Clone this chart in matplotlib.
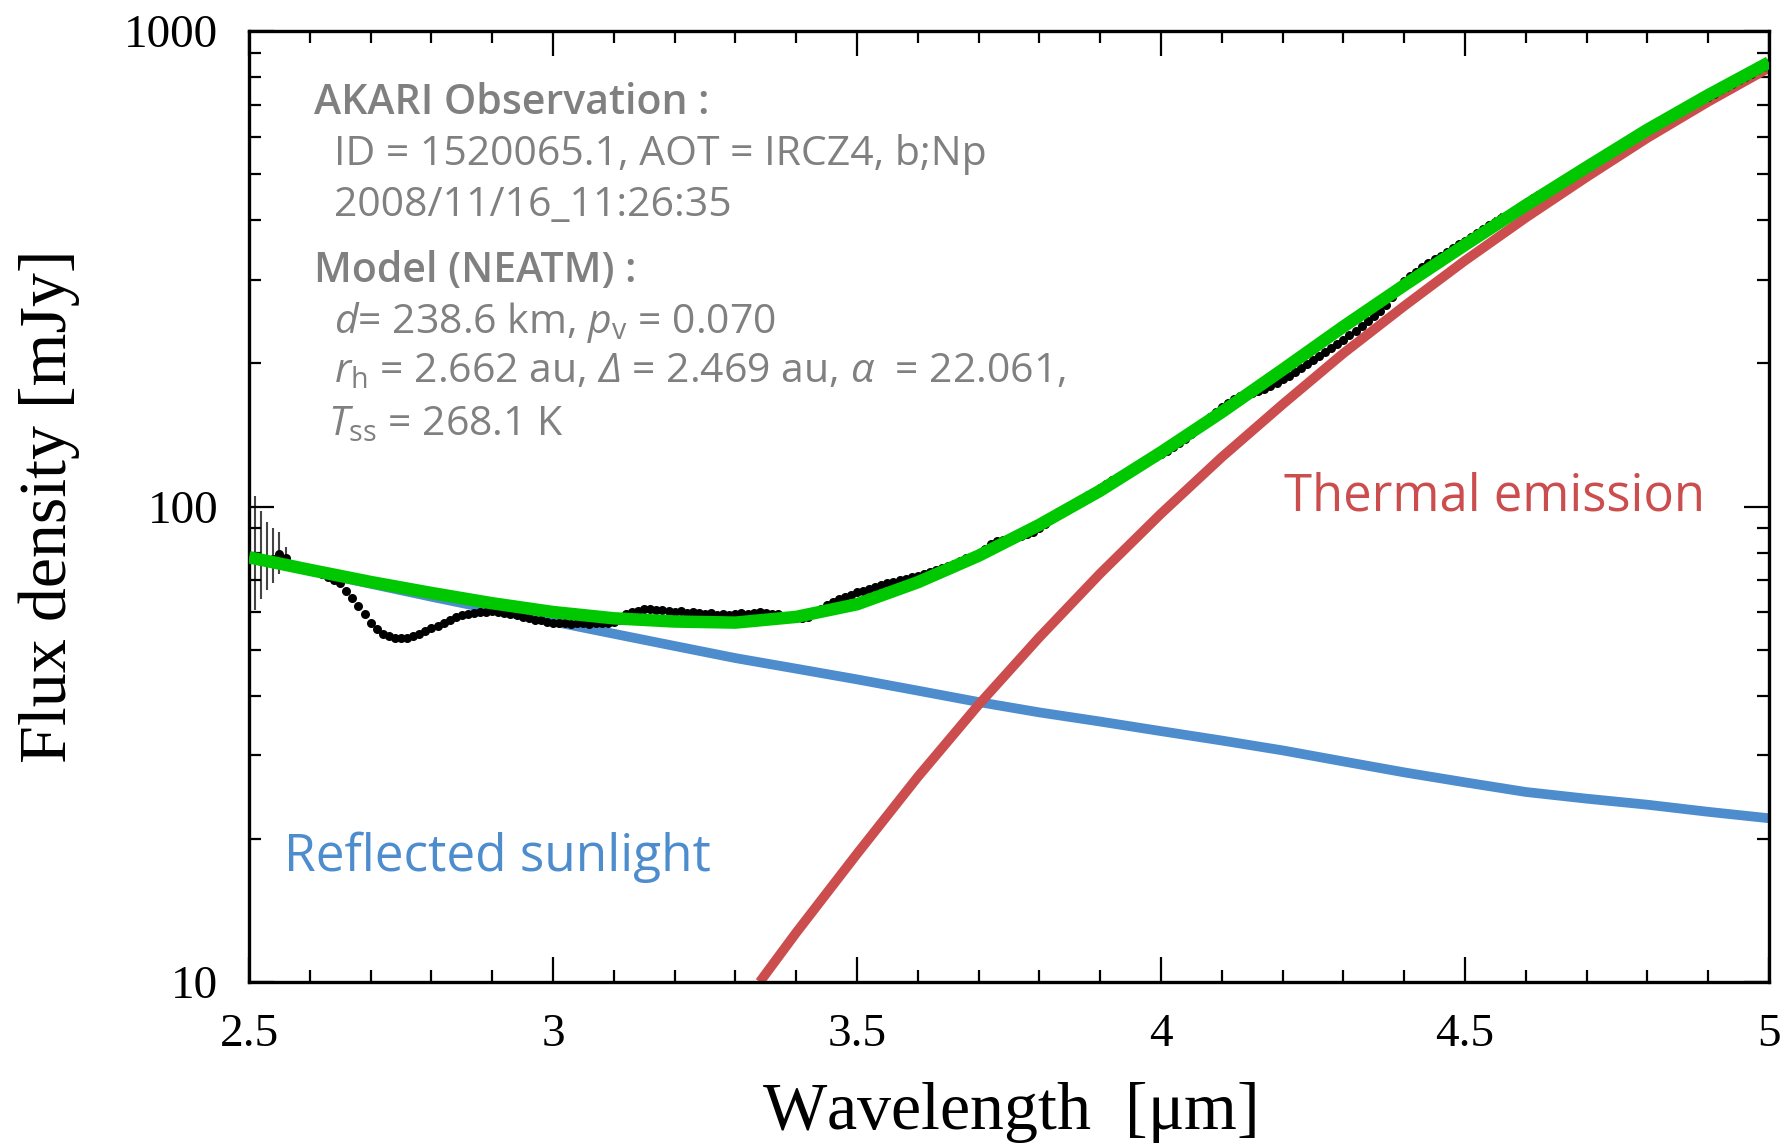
import numpy as np
import matplotlib
matplotlib.use("Agg")
import matplotlib.pyplot as plt
from matplotlib.ticker import FixedLocator, MultipleLocator, NullFormatter

# model curves, 0.1 um grid
model_wl = [2.5, 2.6, 2.7, 2.8, 2.9, 3.0, 3.1, 3.2, 3.3, 3.4, 3.5, 3.6, 3.7,
            3.8, 3.9, 4.0, 4.1, 4.2, 4.3, 4.4, 4.5, 4.6, 4.7, 4.8, 4.9, 5.0]
reflected = [78.0, 73.3, 68.8, 64.6, 60.8, 57.3, 54.0, 50.9, 48.0, 45.6, 43.3,
             41.0, 38.8, 36.9, 35.3, 33.7, 32.2, 30.7, 29.1, 27.6, 26.3, 25.1,
             24.3, 23.6, 22.8, 22.1]
total = [78.2, 73.6, 69.4, 65.8, 62.6, 60.0, 58.2, 57.3, 57.0, 58.6, 62.3,
         69.3, 78.8, 91.5, 108, 130, 158, 194, 239, 292, 355, 430, 517,
         620, 733, 859]

thermal_wl = [3.34, 3.4, 3.5, 3.6, 3.7, 3.8, 3.9, 4.0, 4.1, 4.2, 4.3, 4.4,
              4.5, 4.6, 4.7, 4.8, 4.9, 5.0]
thermal = [10.0, 12.7, 18.6, 27.0, 38.3, 53.1, 72.3, 96.6, 127, 164, 210,
           264, 329, 405, 493, 596, 710, 837]

# AKARI spectrum, 0.01 um steps from 2.50 to 4.62
obs_start = 2.50
obs_flux = [
    77.5, 78.5, 77.0, 76.8, 77.5, 79.5, 78.0, 75.5, 75.0, 73.8,
    73.5, 73.0, 72.0, 71.0, 70.0, 69.0, 66.5, 64.2, 61.8, 59.3,
    57.0, 55.3, 54.0, 53.3, 53.0, 52.9, 53.0, 53.4, 54.0, 54.6,
    55.5, 56.2, 57.0, 57.8, 58.5, 59.0, 59.4, 59.7, 59.9, 60.1,
    60.2, 60.0, 59.8, 59.5, 59.1, 58.7, 58.2, 57.8, 57.6, 57.3,
    57.0, 56.8, 56.9, 56.6, 56.8, 56.9, 56.6, 56.8, 57.0, 56.9,
    57.2, 57.8, 59.3, 60.0, 60.4, 60.8, 61.0, 60.6, 60.5, 60.3,
    60.1, 60.3, 59.8, 59.9, 59.6, 59.5, 59.6, 59.2, 59.3, 59.2,
    59.4, 59.6, 59.5, 59.8, 59.9, 59.6, 59.5, 59.3, 58.8, 58.4,
    58.2, 58.3, 58.6, 59.5, 61.0, 62.0, 63.0, 63.8, 64.6, 65.3,
    66.0, 66.5, 67.2, 67.8, 68.5, 69.0, 69.5, 70.0, 70.5, 71.0,
    71.5, 72.2, 72.9, 73.6, 74.3, 75.0, 75.8, 76.8, 77.8, 78.5,
    79.5, 81.5, 83.5, 84.5, 85.2, 85.5, 85.8, 86.5, 87.5, 88.6,
    90.0, 92.0, 95.0, 97.5, 98.5, 100.0, 101.5, 103.5, 105.5, 107.5,
    109.5, 111.5, 113.5, 115.5, 117.5, 119.0, 121.0, 123.0, 125.0, 127.0,
    129.0, 131.0, 133.5, 136.0, 138.5, 142.0, 146.0, 150.0, 154.0, 158.0,
    162, 165, 168, 171, 172, 173.5, 175, 177, 179.5, 182,
    185, 188.5, 192, 195.5, 199, 203, 207, 211, 215, 219.5,
    224, 229, 234, 239.5, 245, 251, 258, 266, 276, 287,
    298, 305, 312, 319, 325, 331, 337, 343, 349, 356,
    362, 369, 376, 383, 390, 397, 404, 411, 419, 427,
    435, 443, 451]
tail_wl = [4.90, 4.91, 4.92, 4.93, 4.94, 4.95, 4.96, 4.97, 4.98, 4.99, 5.00]
tail_flux = [727, 739, 751, 763, 775, 788, 801, 814, 828, 842, 856]
tail_err = [28, 28, 29, 29, 30, 30, 31, 31, 32, 32, 33]

# visible error bars at the short-wavelength end
err_wl = [2.50, 2.51, 2.52, 2.53, 2.54, 2.55, 2.56]
err_lo = [19.0, 18.0, 13.0, 10.0, 8.6, 7.2, 3.4]
err_hi = [36.0, 26.5, 21.0, 16.0, 12.5, 9.0, 4.3]
mid_wl = [4.54, 4.55, 4.56, 4.57, 4.58, 4.59, 4.60, 4.61, 4.62]
mid_err = [9, 9, 10, 10, 10, 10, 11, 11, 11]

BLUE = "#4d8ccd"
RED = "#cc4d4d"
GREEN = "#00c800"
GRAY = "#808080"

plt.rcParams['mathtext.fontset'] = 'custom'
plt.rcParams['mathtext.rm'] = 'Open Sans'
plt.rcParams['mathtext.it'] = 'Open Sans:italic'
plt.rcParams['mathtext.sf'] = 'Open Sans:italic'  # italic capital greek
plt.rcParams['mathtext.bf'] = 'Open Sans:bold'

fig = plt.figure(figsize=(17.89, 11.46), dpi=100)
ax = fig.add_axes([0.1392, 0.1431, 0.8496, 0.8298])

obs_wl = obs_start + 0.01 * np.arange(len(obs_flux))

def obs_at(wls):
    return [obs_flux[int(round((w - obs_start) / 0.01))] for w in wls]

ax.errorbar(err_wl, obs_at(err_wl), yerr=[err_lo, err_hi], fmt="none",
            ecolor="#444444", elinewidth=1.5, zorder=1)
ax.errorbar(mid_wl, obs_at(mid_wl), yerr=mid_err, fmt="none",
            ecolor="#555555", elinewidth=1.3, zorder=1)
ax.errorbar(tail_wl, tail_flux, yerr=tail_err, fmt="none", ecolor="#555555",
            elinewidth=1.3, zorder=1)

ax.plot(model_wl, reflected, color=BLUE, lw=7, zorder=2, solid_capstyle="butt")
ax.plot(thermal_wl, thermal, color=RED, lw=7, zorder=2, solid_capstyle="butt")
ax.plot(obs_wl, obs_flux, "o", color="black", ms=6.5, mec="none", zorder=3)
ax.plot(tail_wl, tail_flux, "o", color="black", ms=6.5, mec="none", zorder=3)
ax.plot(model_wl, total, color=GREEN, lw=9, zorder=4, solid_capstyle="butt")

ax.set_yscale("log")
ax.set_xlim(2.5, 5.0)
ax.set_ylim(10, 1000)

serif = "Liberation Serif"
ax.xaxis.set_minor_locator(MultipleLocator(0.1))
ax.yaxis.set_minor_locator(FixedLocator([m * d for d in (10, 100) for m in range(2, 10)]))
ax.yaxis.set_minor_formatter(NullFormatter())
ax.set_xticks([2.5, 3.0, 3.5, 4.0, 4.5, 5.0])
ax.set_xticklabels(["2.5", "3", "3.5", "4", "4.5", "5"], fontfamily=serif, fontsize=34)
ax.set_yticks([10, 100, 1000])
ax.set_yticklabels(["10", "100", "1000"], fontfamily=serif, fontsize=34)
ax.tick_params(which="both", direction="in", top=True, right=True, width=1.6)
ax.tick_params(which="major", length=18)
ax.tick_params(which="minor", length=8.5)
ax.tick_params(axis="x", which="major", pad=23)
ax.tick_params(axis="y", which="major", pad=22)
for s in ax.spines.values():
    s.set_linewidth(2.4)

ax.set_xlabel(r"Wavelength  [$\mathregular{\mu}$m]", fontfamily=serif, fontsize=49, labelpad=17)
ax.set_ylabel("Flux density [mJy]", fontfamily=serif, fontsize=49, labelpad=32)

sans = "Open Sans"
fs = 29.5
lines = [
    (0.043, 0.924, "AKARI Observation :", "semibold"),
    (0.056, 0.870, "ID = 1520065.1, AOT = IRCZ4, b;Np", "normal"),
    (0.056, 0.816, "2008/11/16_11:26:35", "normal"),
    (0.043, 0.748, "Model (NEATM) :", "semibold"),
    (0.056, 0.694, r"$d$= 238.6 km, $p_\mathrm{v}$ = 0.070", "normal"),
    (0.056, 0.641, r"$r_\mathrm{h}$ = 2.662 au, $\mathsf{\Delta}$ = 2.469 au, $\alpha$  = 22.061,", "normal"),
    (0.052, 0.586, r"$T_\mathrm{ss}$ = 268.1 K", "normal"),
]
for x, y, s, w in lines:
    ax.text(x, y, s, transform=ax.transAxes, fontsize=fs, color=GRAY,
            fontfamily=sans, fontweight=w, va="center", ha="left")

ax.text(0.023, 0.131, "Reflected sunlight", transform=ax.transAxes, fontsize=37,
        color=BLUE, fontfamily=sans, va="center", ha="left")
ax.text(0.681, 0.510, "Thermal emission", transform=ax.transAxes, fontsize=36.5,
        color=RED, fontfamily=sans, va="center", ha="left")

fig.savefig("out.png", dpi=100)
